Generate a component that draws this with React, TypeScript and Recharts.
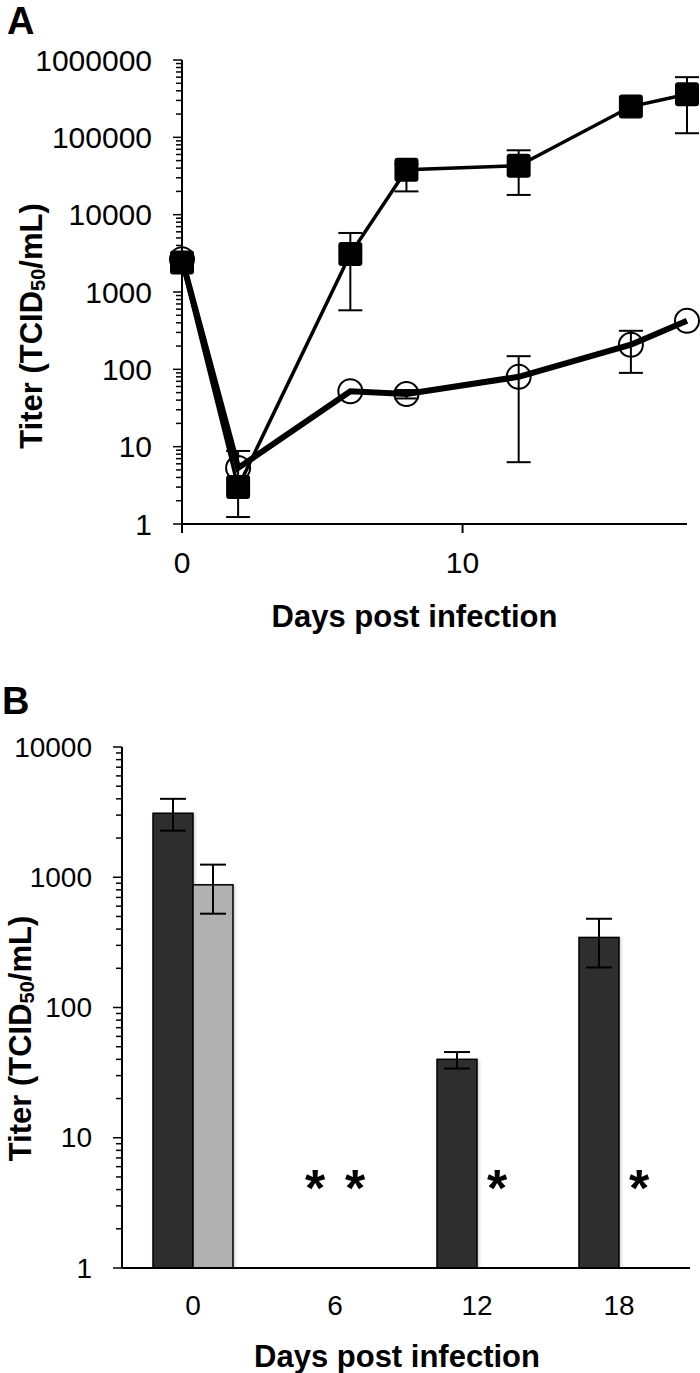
import { LineChart, Line, BarChart, Bar, XAxis, YAxis, ErrorBar } from 'recharts';

const FONT = '"Liberation Sans", Arial, Helvetica, sans-serif';

// Panel A: titer over time, two virus strains
const daysA = [0, 2, 6, 8, 12, 16, 18];
const filledMean = [2400, 3, 3100, 38000, 43000, 250000, 360000];
const filledLow = [null, 1.23, 580, 20000, 18000, null, 113000];
const filledHigh = [null, 8.8, 5800, 45000, 68000, null, 600000];
const openMean = [2650, 5.3, 52, 48, 80, 208, 425];
const openLow = [null, null, null, 42, 6.3, 90, null];
const openHigh = [null, null, null, 54, 148, 315, null];

// Panel B: titer per sampling day
const daysB = ['0', '6', '12', '18'];
const darkMean = [3100, null, 40, 345];
const darkLow = [2280, null, 34, 203];
const darkHigh = [4000, null, 45.5, 480];
const lightMean = [875, null, null, null];
const lightLow = [525, null, null, null];
const lightHigh = [1250, null, null, null];
const belowDetection = 5; // level where the * is drawn

const decadesA = [1, 10, 100, 1000, 10000, 100000, 1000000];
const decadesB = [1, 10, 100, 1000, 10000];
const minorSteps = [2, 3, 4, 5, 6, 7, 8, 9];
const ticksX_A = [0, 10];

const logTicks = (decades: number[]) =>
  decades.flatMap((d, i) => (i === decades.length - 1 ? [d] : [d, ...minorSteps.map((m) => d * m)]));

const rel = (mean: number | null, low: number | null, high: number | null) =>
  mean == null || low == null || high == null ? undefined : [mean - low, high - mean];

const dataA = daysA.map((day, i) => ({
  day,
  filled: filledMean[i],
  filledErr: rel(filledMean[i], filledLow[i], filledHigh[i]),
  open: openMean[i],
  openErr: rel(openMean[i], openLow[i], openHigh[i]),
}));

const dataB = daysB.map((day, i) => ({
  day,
  dark: darkMean[i] ?? belowDetection,
  darkMissing: darkMean[i] == null,
  darkErr: rel(darkMean[i], darkLow[i], darkHigh[i]),
  light: lightMean[i] ?? belowDetection,
  lightMissing: lightMean[i] == null,
  lightErr: rel(lightMean[i], lightLow[i], lightHigh[i]),
}));

const makeLogTick = (decades: number[], fontSize: number) => (props: any) => {
  const { x, y, payload } = props;
  const major = decades.includes(payload.value);
  return (
    <g>
      <line x1={x - (major ? 9 : 6)} x2={x} y1={y} y2={y} stroke="#000" strokeWidth={1.5} />
      {major && (
        <text
          x={x - 30}
          y={y}
          textAnchor="end"
          dominantBaseline="central"
          fontSize={fontSize}
          fontFamily={FONT}
          fill="#000"
        >
          {payload.value}
        </text>
      )}
    </g>
  );
};

const YTitle = (props: any) => {
  const { viewBox, cx, dy } = props;
  const cy = viewBox.y + viewBox.height / 2 + dy;
  return (
    <text
      x={cx}
      y={cy}
      transform={`rotate(-90, ${cx}, ${cy})`}
      textAnchor="middle"
      dominantBaseline="central"
      fontSize={31}
      fontWeight="bold"
      fontFamily={FONT}
      fill="#000"
    >
      <tspan>Titer (TCID</tspan>
      <tspan fontSize={20} dy={7}>50</tspan>
      <tspan dy={-7}>/mL)</tspan>
    </text>
  );
};

const XTitle = (props: any) => {
  const { viewBox, shift, drop } = props;
  return (
    <text
      x={viewBox.x + viewBox.width / 2 + shift}
      y={viewBox.y + drop}
      textAnchor="middle"
      fontSize={31}
      fontWeight="bold"
      fontFamily={FONT}
      fill="#000"
    >
      Days post infection
    </text>
  );
};

const SquareDot = (props: any) => {
  const { cx, cy, index } = props;
  if (cx == null || cy == null) return <g key={`sq-${index}`} />;
  return <rect key={`sq-${index}`} x={cx - 12} y={cy - 12} width={24} height={24} rx={3} fill="#000" />;
};

const CircleDot = (props: any) => {
  const { cx, cy, index } = props;
  if (cx == null || cy == null) return <g key={`ci-${index}`} />;
  return <circle key={`ci-${index}`} cx={cx} cy={cy} r={12} fill="none" stroke="#000" strokeWidth={2} />;
};

const makeBarShape = (fill: string, missingKey: string) => (props: any) => {
  const { x, y, width, height, payload } = props;
  if (payload[missingKey]) {
    return (
      <text x={x + width / 2} y={y + 29} textAnchor="middle" fontSize={52} fontWeight="bold" fontFamily={FONT} fill="#000">
        *
      </text>
    );
  }
  return (
    <rect x={x} y={y} width={width} height={height} fill={fill} stroke="#000" strokeWidth={1.5} filter="url(#barShadow)" />
  );
};

const panelLetter = (top: number, left: number): React.CSSProperties => ({
  position: 'absolute',
  top,
  left,
  fontFamily: FONT,
  fontWeight: 'bold',
  fontSize: 38,
  lineHeight: 1,
});

export default function App() {
  return (
    <div style={{ position: 'absolute', left: 0, top: 0, width: 700, height: 1373, background: '#fff' }}>
      <div style={panelLetter(2, 7)}>A</div>
      <div style={{ position: 'absolute', left: 0, top: 0 }}>
        <LineChart width={700} height={660} data={dataA} margin={{ top: 60, right: 13, bottom: 26, left: 0 }}>
          <XAxis
            type="number"
            dataKey="day"
            domain={[0, 18]}
            ticks={ticksX_A}
            tickSize={9}
            tickMargin={19}
            height={110}
            axisLine={{ stroke: '#000', strokeWidth: 2 }}
            tickLine={{ stroke: '#000', strokeWidth: 2 }}
            tick={{ fontSize: 30, fill: '#000', fontFamily: FONT }}
            label={<XTitle shift={-20} drop={103} />}
          />
          <YAxis
            type="number"
            scale="log"
            domain={[1, 1000000]}
            allowDataOverflow
            ticks={logTicks(decadesA)}
            interval={0}
            width={182}
            tickSize={0}
            tickMargin={0}
            tickLine={false}
            axisLine={{ stroke: '#000', strokeWidth: 2 }}
            tick={makeLogTick(decadesA, 30)}
            label={<YTitle cx={31} dy={34} />}
          />
          <Line
            dataKey="open"
            stroke="#000"
            strokeWidth={6}
            dot={CircleDot}
            activeDot={false}
            isAnimationActive={false}
          >
            <ErrorBar dataKey="openErr" direction="y" width={12} stroke="#000" strokeWidth={2} />
          </Line>
          <Line
            dataKey="filled"
            stroke="#000"
            strokeWidth={3.5}
            dot={SquareDot}
            activeDot={false}
            isAnimationActive={false}
          >
            <ErrorBar dataKey="filledErr" direction="y" width={12} stroke="#000" strokeWidth={2} />
          </Line>
        </LineChart>
      </div>

      <div style={panelLetter(682, 2)}>B</div>
      <div style={{ position: 'absolute', left: 0, top: 680 }}>
        <BarChart
          width={700}
          height={693}
          data={dataB}
          margin={{ top: 67, right: 10, bottom: 25, left: 0 }}
          barSize={40}
          barGap={0}
        >
          <defs>
            <filter id="barShadow" x="-20%" y="-5%" width="140%" height="110%">
              <feDropShadow dx="1.5" dy="1" stdDeviation="1.5" floodColor="#000" floodOpacity="0.18" />
            </filter>
          </defs>
          <XAxis
            dataKey="day"
            tickLine={false}
            tickSize={0}
            tickMargin={27}
            height={80}
            axisLine={{ stroke: '#000', strokeWidth: 2 }}
            tick={{ fontSize: 28, fill: '#000', fontFamily: FONT }}
            label={<XTitle shift={-9} drop={99} />}
          />
          <YAxis
            type="number"
            scale="log"
            domain={[1, 10000]}
            allowDataOverflow
            ticks={logTicks(decadesB)}
            interval={0}
            width={122}
            tickSize={0}
            tickMargin={0}
            tickLine={false}
            axisLine={{ stroke: '#000', strokeWidth: 2 }}
            tick={makeLogTick(decadesB, 28)}
            label={<YTitle cx={20} dy={31} />}
          />
          <Bar dataKey="dark" shape={makeBarShape('#2d2d2d', 'darkMissing')} isAnimationActive={false}>
            <ErrorBar dataKey="darkErr" direction="y" width={13} stroke="#000" strokeWidth={2} />
          </Bar>
          <Bar dataKey="light" shape={makeBarShape('#b1b1b1', 'lightMissing')} isAnimationActive={false}>
            <ErrorBar dataKey="lightErr" direction="y" width={13} stroke="#000" strokeWidth={2} />
          </Bar>
        </BarChart>
      </div>
    </div>
  );
}
